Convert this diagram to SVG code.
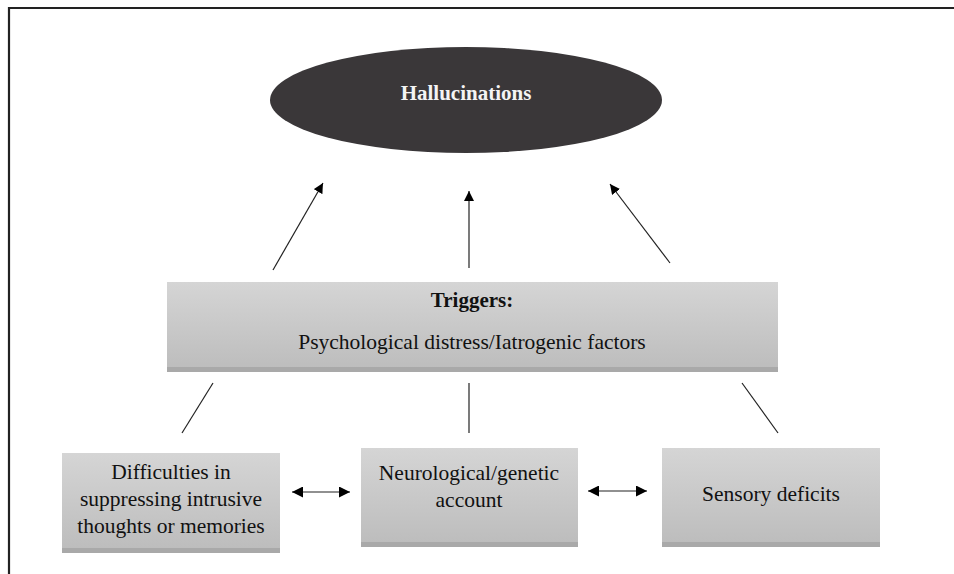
<svg xmlns="http://www.w3.org/2000/svg" width="954" height="574" viewBox="0 0 954 574">
  <defs>
    <linearGradient id="boxGrad" x1="0" y1="0" x2="0" y2="1">
      <stop offset="0" stop-color="#d5d5d5"/>
      <stop offset="1" stop-color="#bdbdbd"/>
    </linearGradient>
    <marker id="arrow" viewBox="0 0 10 10" refX="10" refY="5" markerWidth="10" markerHeight="10" markerUnits="userSpaceOnUse" orient="auto-start-reverse">
      <path d="M0,0 L10,5 L0,10 z" fill="#000"/>
    </marker>
    <marker id="arrowS" viewBox="0 0 10 10" refX="10" refY="5" markerWidth="11" markerHeight="11" markerUnits="userSpaceOnUse" orient="auto-start-reverse">
      <path d="M0,0 L10,5 L0,10 z" fill="#000"/>
    </marker>
  </defs>
  <style>
    .box { fill: url(#boxGrad); }
    .shade { fill: #a9a9a9; }
    .edge { fill: none; stroke: #e2e2e2; stroke-width: 1; }
    .t { font-family: "Liberation Serif", "Times New Roman", serif; font-size: 21.5px; fill: #111; text-anchor: middle; }
    .b { font-weight: bold; font-size: 21px; }
    .conn { stroke: #222; stroke-width: 1.2; fill: none; }
  </style>
  <rect x="0" y="0" width="954" height="574" fill="#fff"/>
  <path d="M9,574 V8 H954" fill="none" stroke="#222" stroke-width="2.2"/>

  <g id="hallucinations">
    <ellipse cx="466" cy="100" rx="196" ry="53" fill="#3a3739"/>
    <text x="466" y="100" class="t b" fill="#fff" style="fill:#f4f4f4">Hallucinations</text>
  </g>

  <g id="triggers">
    <rect x="167" y="282" width="611" height="86" class="box"/>
    <rect x="167" y="367" width="611" height="5" class="shade"/>
    <text x="472" y="307" class="t b">Triggers:</text>
    <text x="472" y="349" class="t">Psychological distress/Iatrogenic factors</text>
  </g>

  <g id="difficulties">
    <rect x="62" y="453" width="218" height="95" class="box"/>
    <rect x="62" y="548" width="218" height="5" class="shade"/>
    <text x="171" y="479" class="t">Difficulties in</text>
    <text x="171" y="506" class="t">suppressing intrusive</text>
    <text x="171" y="533" class="t">thoughts or memories</text>
  </g>

  <g id="neurological">
    <rect x="361" y="448" width="217" height="94" class="box"/>
    <rect x="361" y="542" width="217" height="5" class="shade"/>
    <text x="469" y="480" class="t">Neurological/genetic</text>
    <text x="469" y="507" class="t">account</text>
  </g>

  <g id="sensory">
    <rect x="662" y="448" width="218" height="94" class="box"/>
    <rect x="662" y="542" width="218" height="5" class="shade"/>
    <text x="771" y="501" class="t">Sensory deficits</text>
  </g>

  <g id="connectors">
    <line x1="273" y1="270" x2="323" y2="183" class="conn" marker-end="url(#arrow)"/>
    <line x1="469" y1="268" x2="469" y2="191" class="conn" marker-end="url(#arrow)"/>
    <line x1="670" y1="263" x2="610" y2="184" class="conn" marker-end="url(#arrow)"/>
    <line x1="213" y1="383" x2="182" y2="433" class="conn"/>
    <line x1="469" y1="383" x2="469" y2="433" class="conn"/>
    <line x1="742" y1="383" x2="778" y2="433" class="conn"/>
    <line x1="292" y1="492" x2="350" y2="492" class="conn" stroke-width="1.6" marker-start="url(#arrowS)" marker-end="url(#arrowS)"/>
    <line x1="588" y1="491" x2="647" y2="491" class="conn" stroke-width="1.6" marker-start="url(#arrowS)" marker-end="url(#arrowS)"/>
  </g>
</svg>
